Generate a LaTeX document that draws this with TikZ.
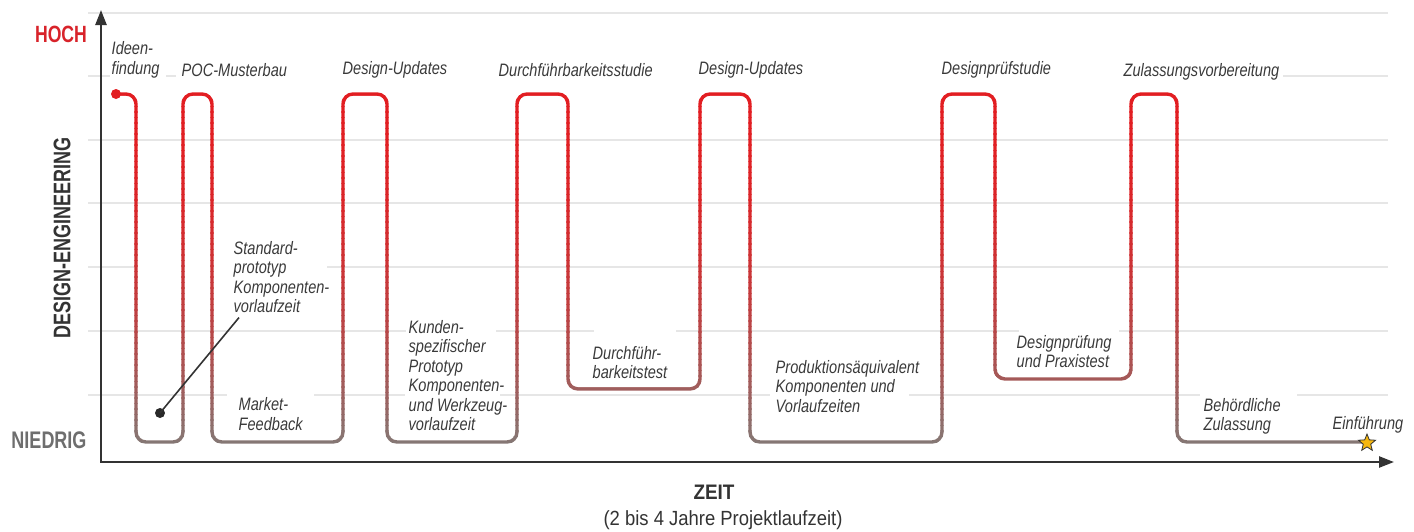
\documentclass[tikz,border=0pt]{standalone}
\usepackage{fontspec}
\setmainfont{Liberation Sans}
\newfontfamily\labfont{Liberation Sans}[FakeStretch=0.81]
\newfontfamily\condfont{Liberation Sans}[FakeStretch=0.75]
\newfontfamily\semifont{Liberation Sans}[FakeStretch=0.9]
\usetikzlibrary{arrows.meta,shapes.geometric}
\definecolor{hochred}{HTML}{D8232A}
\definecolor{pathred}{HTML}{E21E22}
\definecolor{pathgray}{HTML}{857774}
\definecolor{gridgray}{HTML}{E6E6E6}
\definecolor{axisgray}{HTML}{333333}
\definecolor{labgray}{HTML}{3A3A3A}
\definecolor{niedgray}{HTML}{6E6E6E}
\definecolor{stargold}{HTML}{F6B70F}
\begin{document}
\begin{tikzpicture}[x=1pt,y=-1pt,
  gridline/.style={draw=gridgray,line width=2pt},
  axisline/.style={draw=axisgray,line width=2.4pt},
  lab/.style={font=\labfont\itshape\fontsize{18}{19.5}\selectfont, text=labgray, inner sep=2.5pt, align=left, anchor=west},
  wave/.style={line width=3.4pt, rounded corners=10pt, line join=round},
  axislab/.style={font=\condfont\bfseries\fontsize{24}{26}\selectfont},
  dotnode/.style={circle, inner sep=0pt, minimum size=10pt},
  leader/.style={draw=axisgray, line width=1.6pt}]
\useasboundingbox (0,0) rectangle (1414,531);
% grid (broken where labels sit)
\draw[gridline] (88,13) -- (1388,13);
\draw[gridline] (88,76) -- (110,76);
\draw[gridline] (166,76) -- (176,76);
\draw[gridline] (1283,76) -- (1388,76);
\draw[gridline] (88,140) -- (1388,140);
\draw[gridline] (88,203) -- (1388,203);
\draw[gridline] (88,267) -- (137,267);
\draw[gridline] (327,267) -- (1388,267);
\draw[gridline] (88,331) -- (406,331);
\draw[gridline] (496,331) -- (594,331);
\draw[gridline] (676,331) -- (1019,331);
\draw[gridline] (1119,331) -- (1388,331);
\draw[gridline] (88,395) -- (227,395);
\draw[gridline] (314,395) -- (405,395);
\draw[gridline] (500,395) -- (770,395);
\draw[gridline] (909,395) -- (1200,395);
\draw[gridline] (1297,395) -- (1388,395);
% axes
\coordinate (ytip) at (101,10);
\coordinate (orig) at (101,462);
\coordinate (xtip) at (1394,462);
\draw[axisline, {Triangle[length=15pt,width=11pt]}-{Triangle[length=15pt,width=11pt]}] (ytip) -- (orig) -- (xtip);
% axis labels
\node[axislab, text=hochred, font=\condfont\bfseries\fontsize{23.5}{26}\selectfont] (hoch) at (61,34) {HOCH};
\node[axislab, text=niedgray] (nied) at (49,440) {NIEDRIG};
\node[axislab, text=axisgray, rotate=90] (de) at (62,238) {DESIGN-ENGINEERING};
\node[font=\semifont\bfseries\fontsize{21}{23}\selectfont, text=axisgray] (zeit) at (714,492) {ZEIT};
\node[font=\semifont\fontsize{20.5}{22}\selectfont, text=axisgray] (sub) at (723,520) {(2 bis 4 Jahre Projektlaufzeit)};
% labels
\node[lab] (ideen) at (109,60) {Ideen-\\findung};
\node[lab] (poc) at (179,70) {POC-Musterbau};
\node[lab] (du1) at (340,70) {Design-Updates};
\node[lab] (dfs) at (496,70) {Durchführbarkeitsstudie};
\node[lab] (du2) at (696,70) {Design-Updates};
\node[lab] (dps) at (939,70) {Designprüfstudie};
\node[lab] (zv) at (1121,72) {Zulassungsvorbereitung};
\node[lab] (std) at (231,277) {Standard-\\prototyp\\Komponenten-\\vorlaufzeit};
\node[lab] (mf) at (236,414) {Market-\\Feedback};
\node[lab] (kun) at (406,375.5) {Kunden-\\spezifischer\\Prototyp\\Komponenten-\\und Werkzeug-\\vorlaufzeit};
\node[lab] (dft) at (590,362.5) {Durchführ-\\barkeitstest};
\node[lab] (pae) at (773,386.5) {Produktionsäquivalent\\Komponenten und\\Vorlaufzeiten};
\node[lab] (dpp) at (1014,351.5) {Designprüfung\\und Praxistest};
\node[lab] (bz) at (1201,416.5) {Behördliche\\Zulassung};
\node[lab] (ein) at (1330,425) {Einführung};
% main wave: drawn in thin horizontal strips, red at the top fading to grey-brown at the bottom
\foreach \i in {0,...,69}{
  \pgfmathsetmacro{\ya}{84+\i*5.5}
  \pgfmathsetmacro{\ss}{max(0,min(1,(\ya+2.75-100)/342))}
  \pgfmathsetmacro{\rf}{100*(1-\ss*\ss)}
  \begin{scope}
    \clip (0,\ya) rectangle (1414,\ya+6.2);
    \draw[wave, draw=pathred!\rf!pathgray] (116,94) -- (136,94) -- (136,442) -- (183,442) -- (183,94) -- (212,94) -- (212,442) -- (343,442) -- (343,94) -- (387,94) -- (387,442) -- (517,442) -- (517,94) -- (568,94) -- (568,389) -- (700,389) -- (700,94) -- (750,94) -- (750,442) -- (942,442) -- (942,94) -- (995,94) -- (995,379) -- (1131,379) -- (1131,94) -- (1177,94) -- (1177,442) -- (1367,442);
  \end{scope}
}
\node[dotnode, fill=pathred] (sdot) at (116,94) {};
% leader
\node[dotnode, fill=axisgray!80!black] (ldot) at (160,413) {};
\draw[leader] ([xshift=8pt,yshift=-2pt]std.south west) -- (ldot.center);
% star
\node[star, star points=5, star point ratio=2.3, fill=stargold, draw=axisgray, line width=0.8pt, minimum size=18pt, inner sep=0pt] (star) at (1367,443) {};
\end{tikzpicture}
\end{document}
